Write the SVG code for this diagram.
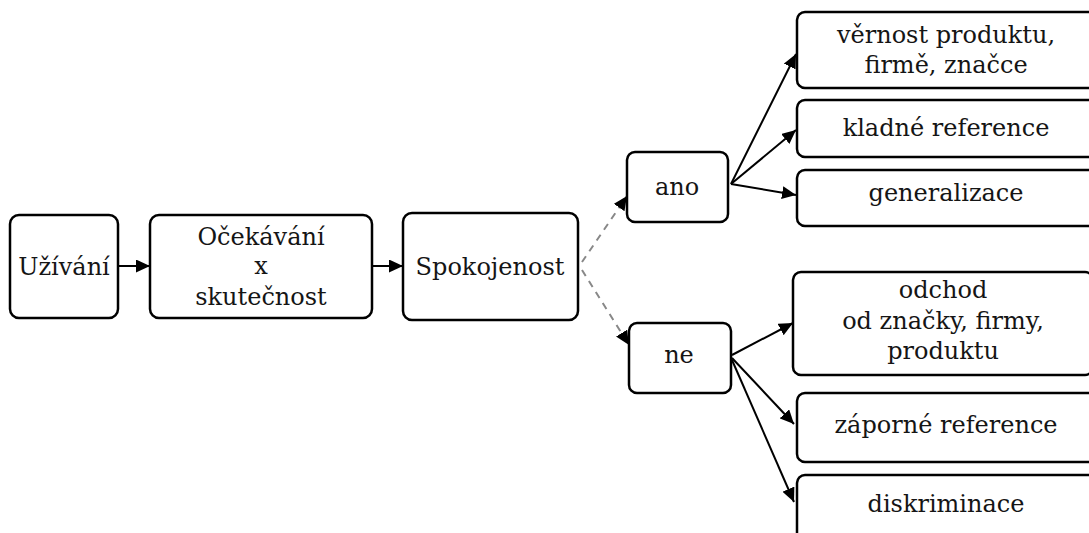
<svg xmlns="http://www.w3.org/2000/svg" width="1089" height="533" viewBox="0 0 1089 533">
<style>
.box{fill:#fff;stroke:#000;stroke-width:2.5}
.t{font-family:'DejaVu Serif',serif;font-size:24px;fill:#151515;text-anchor:middle}
.c{stroke:#000;stroke-width:2;fill:none}
.d{stroke:#888;stroke-width:2;fill:none;stroke-dasharray:7,6}
</style>
<defs>
<marker id="ah" viewBox="0 0 14 13" refX="14" refY="6.5" markerWidth="14" markerHeight="13" markerUnits="userSpaceOnUse" orient="auto">
<path d="M0,0 L14,6.5 L0,13 z" fill="#000"/>
</marker>
</defs>
<rect width="1089" height="533" fill="#fff"/>
<g id="connectors">
<line class="c" x1="118" y1="266" x2="150" y2="266" marker-end="url(#ah)"/>
<line class="c" x1="372" y1="266" x2="403" y2="266" marker-end="url(#ah)"/>
<line class="d" x1="582" y1="262" x2="627" y2="196" marker-end="url(#ah)"/>
<line class="d" x1="582" y1="270" x2="629" y2="345" marker-end="url(#ah)"/>
<line class="c" x1="731" y1="184" x2="796" y2="54" marker-end="url(#ah)"/>
<line class="c" x1="731" y1="184" x2="796" y2="130" marker-end="url(#ah)"/>
<line class="c" x1="731" y1="184" x2="796" y2="195" marker-end="url(#ah)"/>
<line class="c" x1="732" y1="355" x2="793" y2="323" marker-end="url(#ah)"/>
<line class="c" x1="732" y1="358" x2="794" y2="424" marker-end="url(#ah)"/>
<line class="c" x1="732" y1="360" x2="794" y2="502" marker-end="url(#ah)"/>
</g>
<g id="uzivani"><rect class="box" x="10" y="215" width="108" height="103" rx="9"/><text class="t" x="64" y="275">Užívání</text></g>
<g id="ocekavani"><rect class="box" x="150" y="215" width="222" height="103" rx="9"/><text class="t" x="261" y="245">Očekávání</text><text class="t" x="261" y="274">x</text><text class="t" x="261" y="305">skutečnost</text></g>
<g id="spokojenost"><rect class="box" x="403" y="213" width="175" height="107" rx="9"/><text class="t" x="490" y="275">Spokojenost</text></g>
<g id="ano"><rect class="box" x="627" y="152" width="101" height="70" rx="8"/><text class="t" x="677" y="195">ano</text></g>
<g id="ne"><rect class="box" x="629" y="323" width="102" height="70" rx="8"/><text class="t" x="679" y="363">ne</text></g>
<g id="vernost"><rect class="box" x="797" y="12" width="300" height="76" rx="8"/><text class="t" x="946" y="43">věrnost produktu,</text><text class="t" x="946" y="73">firmě, značce</text></g>
<g id="kladne"><rect class="box" x="797" y="100" width="300" height="57" rx="8"/><text class="t" x="946" y="136">kladné reference</text></g>
<g id="generalizace"><rect class="box" x="797" y="170" width="300" height="56" rx="8"/><text class="t" x="946" y="201">generalizace</text></g>
<g id="odchod"><rect class="box" x="793" y="272" width="300" height="103" rx="8"/><text class="t" x="943" y="298">odchod</text><text class="t" x="943" y="329">od značky, firmy,</text><text class="t" x="943" y="359">produktu</text></g>
<g id="zaporne"><rect class="box" x="797" y="393" width="300" height="69" rx="8"/><text class="t" x="946" y="433">záporné reference</text></g>
<g id="diskriminace"><rect class="box" x="797" y="475" width="300" height="80" rx="8"/><text class="t" x="946" y="512">diskriminace</text></g>
</svg>
